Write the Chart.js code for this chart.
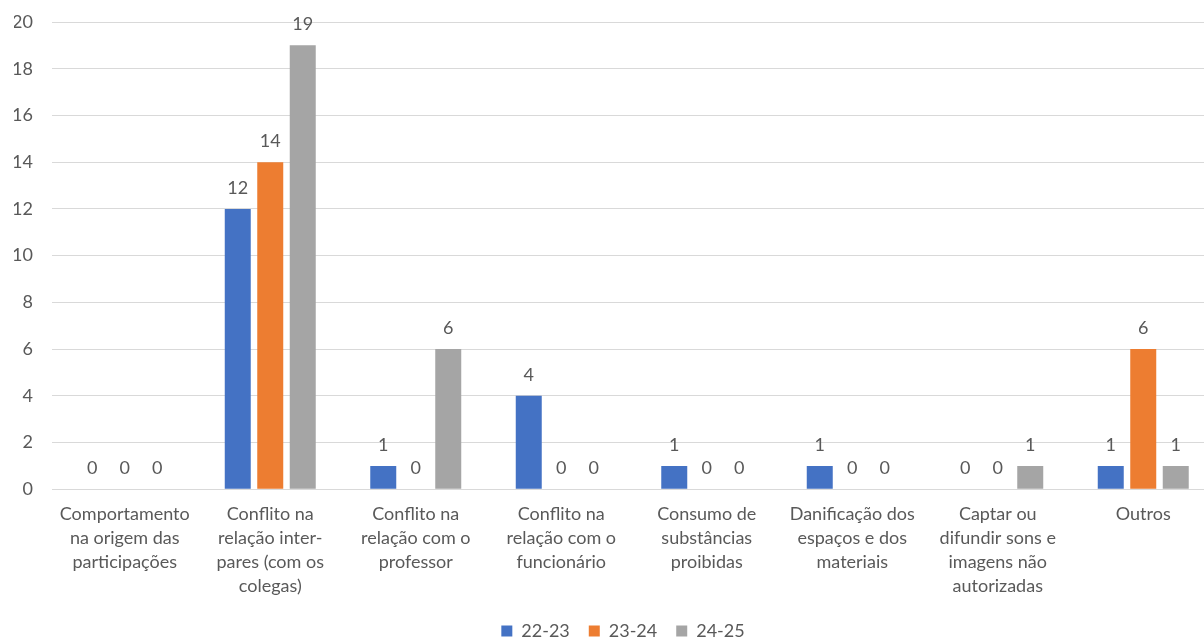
<!DOCTYPE html>
<html>
<head>
<meta charset="utf-8">
<script src="https://cdn.jsdelivr.net/npm/chart.js@4"></script>
<style>
  html, body { margin: 0; padding: 0; background: #fff; overflow: hidden; }
  #wrap { width: 1204px; height: 637px; overflow: hidden; }
</style>
</head>
<body>
<!-- the original chart is cropped on the right, so the canvas is a bit wider than the window -->
<div id="wrap"><canvas id="myChart" width="1216" height="637"></canvas></div>
<script>
// Data for the chart
const categories = [
  ["Comportamento", "na origem das", "participações"],
  ["Conflito na", "relação inter-", "pares (com os", "colegas)"],
  ["Conflito na", "relação com o", "professor"],
  ["Conflito na", "relação com o", "funcionário"],
  ["Consumo de", "substâncias", "proibidas"],
  ["Danificação dos", "espaços e dos", "materiais"],
  ["Captar ou", "difundir sons e", "imagens não", "autorizadas"],
  ["Outros"],
];
const seriesNames = ["22-23", "23-24", "24-25"];
const values2223 = [0, 12, 1, 4, 1, 1, 0, 1];
const values2324 = [0, 14, 0, 0, 0, 0, 0, 6];
const values2425 = [0, 19, 6, 0, 0, 0, 1, 1];
const yTicks = [0, 2, 4, 6, 8, 10, 12, 14, 16, 18, 20];

const textColor = "#595959";
const fontFamily = "Lato, 'Open Sans', sans-serif";

// draws the value above each bar (zero bars too)
const valueLabels = {
  id: "valueLabels",
  afterLayout(chart) {
    // nudge the legend a little to the right, like the original
    chart.legend.left += 8;
    chart.legend.right += 8;
  },
  afterDatasetsDraw(chart) {
    const ctx = chart.ctx;
    ctx.save();
    ctx.fillStyle = textColor;
    ctx.font = "18px " + fontFamily;
    ctx.textAlign = "center";
    ctx.textBaseline = "alphabetic";
    chart.data.datasets.forEach((ds, i) => {
      chart.getDatasetMeta(i).data.forEach((bar, j) => {
        ctx.fillText(ds.data[j], bar.x, bar.y - 15);
      });
    });
    ctx.restore();
  },
};

const ctx = document.getElementById("myChart").getContext("2d");
new Chart(ctx, {
  type: "bar",
  data: {
    labels: categories,
    datasets: [
      { label: seriesNames[0], data: values2223, backgroundColor: "#4472C4" },
      { label: seriesNames[1], data: values2324, backgroundColor: "#ED7D31" },
      { label: seriesNames[2], data: values2425, backgroundColor: "#A5A5A5" },
    ],
  },
  options: {
    responsive: false,
    animation: false,
    categoryPercentage: 0.67,
    barPercentage: 0.8,
    layout: { padding: { top: 22, right: 0, left: 14, bottom: -13 } },
    plugins: {
      tooltip: { enabled: false },
      legend: {
        position: "bottom",
        labels: {
          color: textColor,
          font: { family: fontFamily, size: 18 },
          boxWidth: 11,
          boxHeight: 11,
          padding: 19,
        },
      },
    },
    scales: {
      y: {
        min: 0,
        max: 20,
        afterBuildTicks(axis) {
          axis.ticks = yTicks.map((v) => ({ value: v }));
        },
        afterFit(axis) {
          axis.width = 38;
          axis.paddingTop = 0;
          axis.paddingBottom = 0;
        },
        border: { display: false },
        grid: { color: "#d9d9d9", drawTicks: false },
        ticks: {
          color: textColor,
          font: { family: fontFamily, size: 18 },
          padding: 19,
        },
      },
      x: {
        afterFit(scale) {
          scale.paddingLeft = 0;
          scale.paddingRight = 0;
        },
        border: { display: false },
        grid: { display: false },
        ticks: {
          color: textColor,
          font: { family: fontFamily, size: 18, lineHeight: 1.33 },
          maxRotation: 0,
          autoSkip: false,
          padding: 5,
        },
      },
    },
  },
  plugins: [valueLabels],
});
</script>
</body>
</html>
